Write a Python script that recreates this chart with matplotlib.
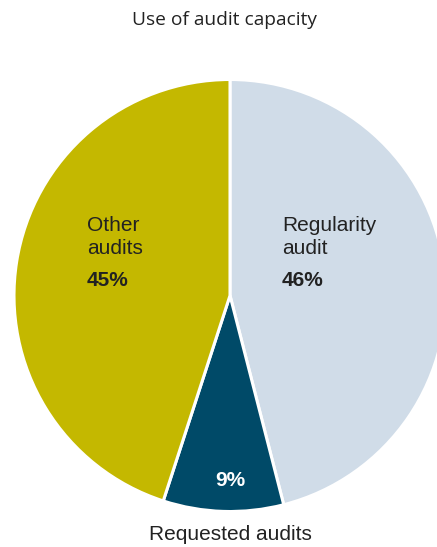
import matplotlib.pyplot as plt

title = "Use of audit capacity"
categories = ["Regularity\naudit", "Requested audits", "Other\naudits"]
shares = [46, 9, 45]
pct_labels = ["46%", "9%", "45%"]
colors = ["#d0dce8", "#004a68", "#c4b800"]

W, H = 437, 547
fig = plt.figure(figsize=(W / 100, H / 100), dpi=100)
ax = fig.add_axes([0, 0, 1, 1])

cx, cy, r = 230, H - 295.5, 216
ax.pie(shares, colors=colors, startangle=90, counterclock=False,
       center=(cx, cy), radius=r, frame=True,
       wedgeprops=dict(edgecolor="white", linewidth=2.2))
ax.set_xlim(0, W)
ax.set_ylim(0, H)
ax.set_aspect("equal")
ax.axis("off")

txt = "#222222"
lab = dict(family="Liberation Sans", fontsize=15, color=txt)

# title
ax.text(225, H - 20, title, ha="center", va="center",
        family="Open Sans", fontsize=13.8, color=txt)

# regularity
ax.text(282, H - 237, categories[0], ha="left", va="center",
        linespacing=1.22, **lab)
ax.text(282, H - 281, pct_labels[0], ha="left", va="center",
        fontweight="bold", **lab)

# other
ax.text(87, H - 237, categories[2], ha="left", va="center",
        linespacing=1.22, **lab)
ax.text(87, H - 281, pct_labels[2], ha="left", va="center",
        fontweight="bold", **lab)

# requested
ax.text(230, H - 481, pct_labels[1], ha="center", va="center",
        family="Liberation Sans", fontsize=15, fontweight="bold", color="white")
ax.text(230, H - 534, categories[1], ha="center", va="center", **lab)

fig.savefig("out.png", dpi=100)
